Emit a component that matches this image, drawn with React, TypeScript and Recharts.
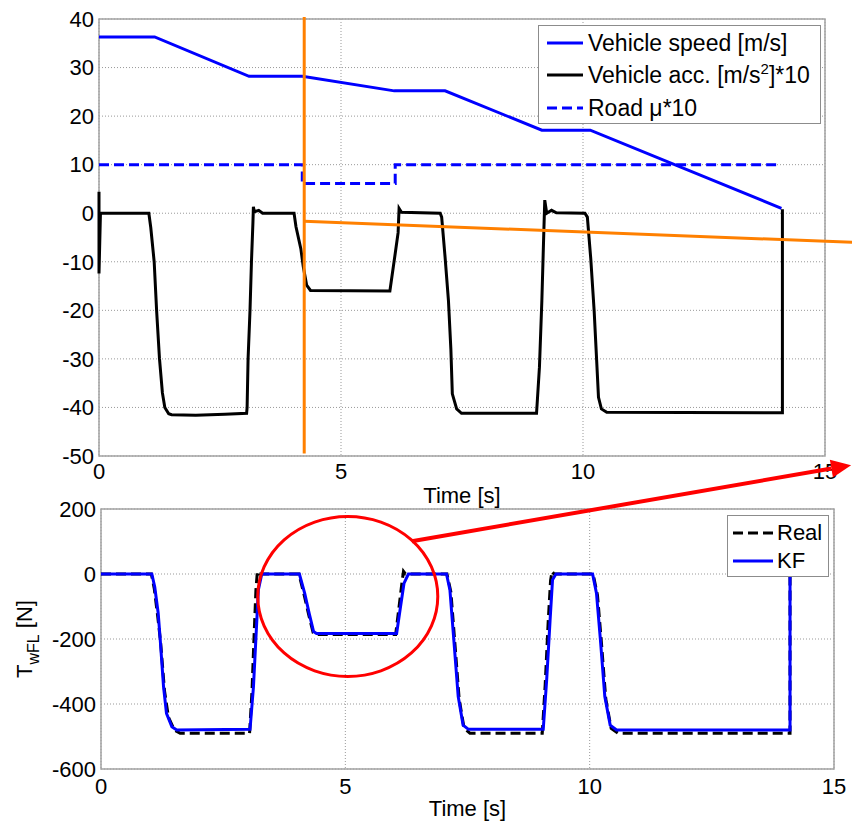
import {
  CartesianGrid,
  Legend,
  Line,
  LineChart,
  ReferenceArea,
  ReferenceDot,
  ReferenceLine,
  XAxis,
  YAxis,
} from "recharts";

// top panel: vehicle states
const speedTime = [0, 1.15, 3.1, 4.2, 6.1, 7.15, 9.15, 10.15, 14.1];
const speedValues = [36.3, 36.3, 28.2, 28.2, 25.2, 25.2, 17.1, 17.1, 1.0];

const muTime = [0, 4.2, 4.2, 6.12, 6.12, 14.07];
const muValues = [10, 10, 6.1, 6.1, 10, 10];

const accTime = [
  0, 0, 0.03, 1.03, 1.07, 1.14, 1.19, 1.25, 1.31, 1.36, 1.44, 1.5, 2.0, 2.6,
  3.05, 3.06, 3.08, 3.12, 3.15, 3.18, 3.19, 3.21, 3.3, 3.38, 4.03, 4.07, 4.17,
  4.22, 4.29, 4.37, 6.01, 6.12, 6.18, 6.2, 6.25, 7.05, 7.08, 7.15, 7.22, 7.27,
  7.3, 7.39, 7.49, 9.04, 9.1, 9.15, 9.19, 9.21, 9.25, 9.35, 9.45, 10.04, 10.09,
  10.16, 10.23, 10.28, 10.32, 10.38, 10.49, 14.12, 14.12,
];
const accValues = [
  4.4, -12.4, 0, 0, -3, -10, -20, -30, -37, -40, -41.3, -41.5, -41.6, -41.4,
  -41.2, -40, -30, -20, -10, -2, 1.3, 0.3, 0.6, 0, 0, -2.8, -7.3, -11, -14.8,
  -15.9, -16, -8.3, -4, 1, 0.2, 0, -0.8, -9, -18, -28, -37.2, -40.3, -41.2,
  -41.2, -31.7, -18, -4, 2.7, 0, 0.6, 0.1, 0, -0.8, -9.3, -20, -29.9, -37.9,
  -40.3, -41, -41.1, 0.8,
];

// bottom panel: wheel torque
const realTime = [
  0, 1.03, 1.09, 1.16, 1.22, 1.3, 1.38, 1.5, 1.62, 3.04, 3.09, 3.13, 3.17, 3.2,
  3.24, 4.05, 4.15, 4.25, 4.34, 4.42, 6.03, 6.1, 6.16, 6.19, 6.23, 7.08, 7.16,
  7.24, 7.33, 7.43, 7.55, 9.03, 9.09, 9.15, 9.2, 9.23, 9.27, 10.07, 10.16,
  10.24, 10.33, 10.44, 10.58, 14.1, 14.1,
];
const realValues = [
  0, 0, -45, -130, -210, -360, -440, -480, -490, -490, -360, -200, -50, 8, 0,
  0, -60, -125, -180, -186, -186, -100, -25, 8, 0, 0, -55, -210, -385, -475,
  -490, -490, -340, -150, -20, 8, 0, 0, -65, -210, -385, -475, -490, -490, 0,
];

const kfTime = [
  0, 1.04, 1.1, 1.17, 1.21, 1.28, 1.34, 1.45, 1.55, 3.05, 3.12, 3.17, 3.22,
  3.29, 4.06, 4.17, 4.26, 4.35, 4.41, 6.05, 6.13, 6.2, 6.29, 7.07, 7.14, 7.22,
  7.31, 7.41, 7.52, 9.05, 9.12, 9.19, 9.24, 9.31, 10.06, 10.14, 10.22, 10.31,
  10.42, 10.55, 14.1, 14.1,
];
const kfValues = [
  0, 0, -40, -120, -198, -347, -429, -470, -480, -478, -347, -198, -49, 0, 0,
  -60, -121, -177, -183, -183, -100, -29, 0, 0, -49, -203, -377, -465, -478,
  -478, -326, -142, -18, 0, 0, -60, -203, -377, -465, -480, -480, 0,
];

const timeTicks = [0, 5, 10, 15];
const topTicks = [-50, -40, -30, -20, -10, 0, 10, 20, 30, 40];
const bottomTicks = [-600, -400, -200, 0, 200];

const zip = (ts: number[], vs: number[]) => ts.map((t, i) => ({ t, v: vs[i] }));

const FONT = '"Liberation Sans", Arial, sans-serif';
const BLUE = "#0000ff";
const ORANGE = "#ff8000";
const BOX = "#a3a3a3";
const tickStyle = { fontSize: 22, fill: "#000", fontFamily: FONT };

function Sample({ color, dash, w }: { color: string; dash?: string; w: number }) {
  return (
    <svg width={w} height={6} style={{ display: "block" }}>
      <line x1={0} y1={3} x2={w} y2={3} stroke={color} strokeWidth={3} strokeDasharray={dash} />
    </svg>
  );
}

function Row({ top, left, children }: { top: number; left: number; children: any }) {
  return (
    <div
      style={{
        position: "absolute",
        top: top - 14,
        left,
        height: 28,
        display: "flex",
        alignItems: "center",
        whiteSpace: "nowrap",
      }}
    >
      {children}
    </div>
  );
}

function TopLegend() {
  return (
    <div
      style={{
        position: "relative",
        width: 281,
        height: 97,
        background: "#fff",
        border: "1px solid #8c8c8c",
        fontSize: 23,
        lineHeight: 1,
        color: "#000",
        fontFamily: FONT,
      }}
    >
      <Row top={17} left={8}>
        <Sample color={BLUE} w={36} />
        <span style={{ marginLeft: 5 }}>Vehicle speed [m/s]</span>
      </Row>
      <Row top={49} left={8}>
        <Sample color="#000" w={36} />
        <span style={{ marginLeft: 5 }}>
          Vehicle acc. [m/s
          <span style={{ fontSize: 15, position: "relative", top: -9 }}>2</span>
          ]*10
        </span>
      </Row>
      <Row top={82} left={8}>
        <Sample color={BLUE} dash="10 5" w={36} />
        <span style={{ marginLeft: 5 }}>Road μ*10</span>
      </Row>
    </div>
  );
}

function BottomLegend() {
  return (
    <div
      style={{
        position: "relative",
        width: 100,
        height: 60,
        background: "#fff",
        border: "1px solid #8c8c8c",
        fontSize: 22,
        lineHeight: 1,
        color: "#000",
        fontFamily: FONT,
      }}
    >
      <Row top={17} left={5}>
        <Sample color="#000" dash="10 5" w={40} />
        <span style={{ marginLeft: 4 }}>Real</span>
      </Row>
      <Row top={45} left={5}>
        <Sample color={BLUE} w={40} />
        <span style={{ marginLeft: 4 }}>KF</span>
      </Row>
    </div>
  );
}

function Arrow(props: any) {
  const { x1, y1, x2, y2 } = props;
  const dx = x2 - x1;
  const dy = y2 - y1;
  const len = Math.hypot(dx, dy);
  const ux = dx / len;
  const uy = dy / len;
  const head = 20;
  const half = 9;
  const bx = x2 - ux * head;
  const by = y2 - uy * head;
  return (
    <g>
      <line x1={x1} y1={y1} x2={bx} y2={by} stroke="#ff0000" strokeWidth={4} />
      <polygon
        points={`${x2},${y2} ${bx - uy * half},${by + ux * half} ${bx + uy * half},${by - ux * half}`}
        fill="#ff0000"
      />
    </g>
  );
}

function YLabel(props: any) {
  const vb = props.viewBox || { y: 0, height: 0 };
  const cx = 32;
  const cy = vb.y + vb.height / 2;
  return (
    <text
      x={cx}
      y={cy}
      transform={`rotate(-90, ${cx}, ${cy})`}
      textAnchor="middle"
      fontSize={22}
      fontFamily={FONT}
      fill="#000"
    >
      T
      <tspan fontSize={16} dy={7}>
        wFL
      </tspan>
      <tspan dy={-7}> [N]</tspan>
    </text>
  );
}

export default function App() {
  return (
    <div
      style={{
        position: "absolute",
        left: 0,
        top: 0,
        width: 852,
        height: 822,
        background: "#fff",
        fontFamily: FONT,
      }}
    >
      <div style={{ position: "absolute", left: 0, top: 0 }}>
        <LineChart width={852} height={510} margin={{ top: 19, right: 27, left: 0, bottom: 0 }}>
          <ReferenceArea x1={0} x2={15} y1={-50} y2={40} fill="none" stroke={BOX} strokeWidth={1.5} />
          <CartesianGrid stroke="#999" strokeDasharray="1 2" />
          <XAxis
            type="number"
            dataKey="t"
            domain={[0, 15]}
            ticks={timeTicks}
            height={54}
            axisLine={false}
            tickLine={false}
            tickSize={0}
            tickMargin={7}
            tick={tickStyle}
            label={{ value: "Time [s]", position: "insideBottom", offset: 7, fontSize: 22, fill: "#000", fontFamily: FONT }}
          />
          <YAxis
            type="number"
            domain={[-50, 40]}
            ticks={topTicks}
            width={99}
            axisLine={false}
            tickLine={false}
            tickSize={0}
            tickMargin={5}
            tick={tickStyle}
          />
          <Line data={zip(speedTime, speedValues)} dataKey="v" name="Vehicle speed [m/s]" stroke={BLUE} strokeWidth={3} dot={false} activeDot={false} isAnimationActive={false} />
          <Line data={zip(accTime, accValues)} dataKey="v" name="Vehicle acc. [m/s^2]*10" stroke="#000" strokeWidth={3} dot={false} activeDot={false} isAnimationActive={false} />
          <Line data={zip(muTime, muValues)} dataKey="v" name="Road μ*10" stroke={BLUE} strokeWidth={3} strokeDasharray="10 5" dot={false} activeDot={false} isAnimationActive={false} />
          <ReferenceLine segment={[{ x: 4.24, y: 40.4 }, { x: 4.24, y: -49.5 }]} stroke={ORANGE} strokeWidth={3} ifOverflow="visible" />
          <ReferenceLine segment={[{ x: 4.24, y: -1.65 }, { x: 15.56, y: -5.98 }]} stroke={ORANGE} strokeWidth={3} ifOverflow="visible" />
          <Legend
            layout="horizontal"
            verticalAlign="middle"
            align="center"
            wrapperStyle={{ top: 25, left: 538, width: "auto", right: "auto", bottom: "auto" }}
            content={() => <TopLegend />}
          />
        </LineChart>
      </div>

      <div style={{ position: "absolute", left: 0, top: 440 }}>
        <LineChart width={852} height={382} margin={{ top: 69, right: 18, left: 0, bottom: 0 }}>
          <ReferenceArea x1={0} x2={15} y1={-600} y2={200} fill="none" stroke={BOX} strokeWidth={1.5} />
          <CartesianGrid stroke="#999" strokeDasharray="1 2" />
          <XAxis
            type="number"
            dataKey="t"
            domain={[0, 15]}
            ticks={timeTicks}
            height={53}
            axisLine={false}
            tickLine={false}
            tickSize={0}
            tickMargin={9}
            tick={tickStyle}
            label={{ value: "Time [s]", position: "insideBottom", offset: 6, fontSize: 22, fill: "#000", fontFamily: FONT }}
          />
          <YAxis
            type="number"
            domain={[-600, 200]}
            ticks={bottomTicks}
            width={101}
            axisLine={false}
            tickLine={false}
            tickSize={0}
            tickMargin={5}
            tick={tickStyle}
            label={{ content: (p: any) => <YLabel {...p} /> }}
          />
          <Line data={zip(realTime, realValues)} dataKey="v" name="Real" stroke="#000" strokeWidth={3} strokeDasharray="10 5" dot={false} activeDot={false} isAnimationActive={false} />
          <Line data={zip(kfTime, kfValues)} dataKey="v" name="KF" stroke={BLUE} strokeWidth={3} dot={false} activeDot={false} isAnimationActive={false} />
          <ReferenceDot
            x={5.05}
            y={-69}
            r={1}
            ifOverflow="visible"
            shape={(p: any) => (
              <ellipse cx={p.cx} cy={p.cy} rx={90} ry={80} fill="none" stroke="#ff0000" strokeWidth={3} />
            )}
          />
          <ReferenceLine
            segment={[{ x: 6.36, y: 101 }, { x: 15.35, y: 335 }]}
            ifOverflow="visible"
            shape={(p: any) => <Arrow {...p} />}
          />
          <Legend
            layout="horizontal"
            verticalAlign="middle"
            align="center"
            wrapperStyle={{ top: 75, left: 727, width: "auto", right: "auto", bottom: "auto" }}
            content={() => <BottomLegend />}
          />
        </LineChart>
      </div>
    </div>
  );
}
